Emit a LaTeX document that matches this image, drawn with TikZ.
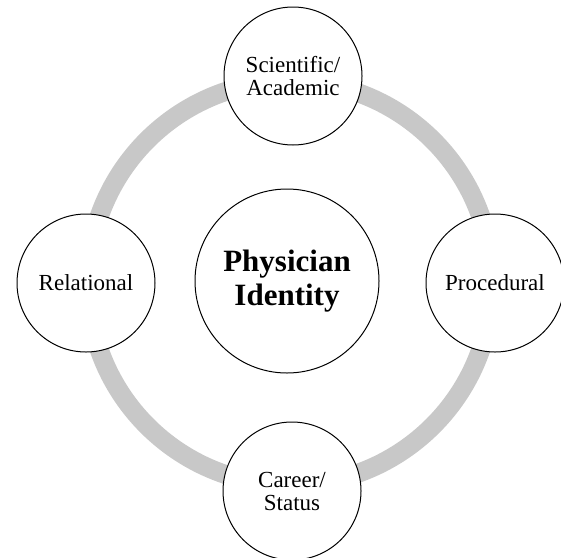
\documentclass[tikz,border=0pt]{standalone}
\usepackage{fontspec}
\setmainfont{Liberation Serif}
\definecolor{ringgray}{RGB}{200,200,200}
\begin{document}
\begin{tikzpicture}[x=1pt,y=-1pt,
  sat/.style={circle,draw=black,line width=1pt,fill=white,minimum size=138pt,inner sep=0pt,align=center,font=\fontsize{23}{23}\selectfont},
  hub/.style={circle,draw=black,line width=1pt,fill=white,minimum size=184pt,inner sep=0pt,align=center,font=\bfseries\fontsize{31}{34}\selectfont}]
\useasboundingbox (0,0) rectangle (561,557);
\coordinate (c) at (290,283);
\draw[ringgray,line width=19pt] (c) circle[radius=202];
\node[hub] (hub) at (287,281) {Physician\\Identity};
\node[sat] (top) at (293,76) {Scientific/\\Academic};
\node[sat] (left) at (86,283) {Relational};
\node[sat] (right) at (495,283) {Procedural};
\node[sat] (bottom) at (292,491) {Career/\\Status};
\end{tikzpicture}
\end{document}
